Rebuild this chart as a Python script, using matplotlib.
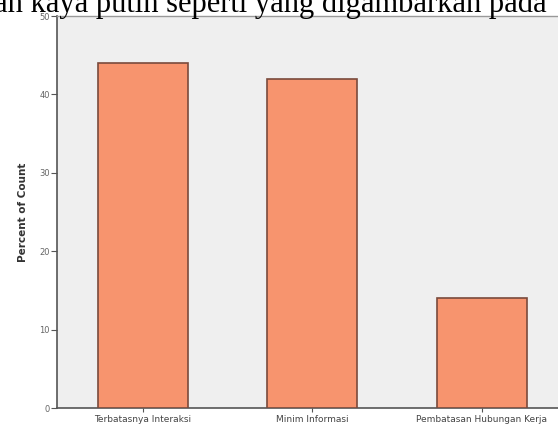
import numpy as np
import matplotlib
matplotlib.use('Agg')
import matplotlib.pyplot as plt

categories = ['Terbatasnya Interaksi', 'Minim Informasi', 'Pembatasan Hubungan Kerja']
percent = [44, 42, 14]
yticks = [0, 10, 20, 30, 40, 50]

fig = plt.figure(figsize=(5.58, 4.30), dpi=100)
fig.patch.set_facecolor('white')
ax = fig.add_axes([57/558, 22/430, 501/558, 392/430])
ax.set_facecolor('#efefef')

x = np.arange(len(categories))
ax.bar(x, percent, width=0.53, color='#f7946e', edgecolor='#7a4a3c', linewidth=1.2, zorder=3)

ax.set_xlim(-0.507, 2.45)
ax.set_ylim(0, 50)
ax.set_yticks(yticks)
ax.set_yticklabels([str(v) for v in yticks], fontsize=6, color='#666666')
ax.set_xticks(x)
ax.set_xticklabels(categories, fontsize=6.5, color='#444444')
ax.tick_params(axis='y', length=4, width=0.8, color='#555555', pad=1)
ax.tick_params(axis='x', length=3, width=0.8, color='#555555', pad=2)
ax.set_ylabel('Percent of Count', fontsize=7.5, fontweight='bold', color='#333333', labelpad=8)

for s in ['left', 'bottom']:
    ax.spines[s].set_color('#555555')
    ax.spines[s].set_linewidth(1.2)
ax.spines['top'].set_color('#999999')
ax.spines['top'].set_linewidth(1.0)
ax.spines['right'].set_visible(False)

# potongan teks dokumen di atas grafik
fig.text(-0.01, 0.99, 'an kaya putih seperti yang digambarkan pada', fontsize=22,
         family='Liberation Serif', va='center', ha='left', color='black')

fig.savefig('out.png', dpi=100)
